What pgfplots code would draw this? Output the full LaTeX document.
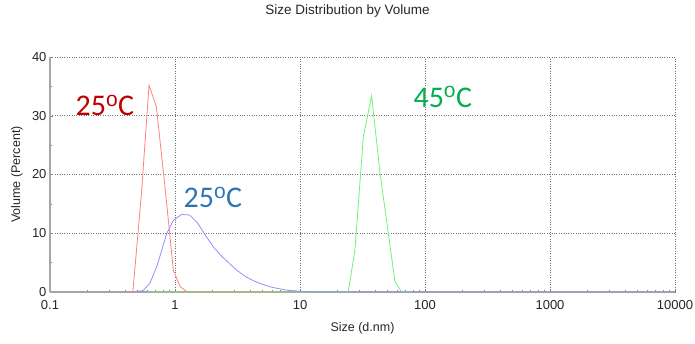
\documentclass[border=0pt]{standalone}
\usepackage{pgfplots}
\pgfplotsset{compat=1.18}
\usepackage{fontspec}
\setmainfont{Liberation Sans}
\newfontfamily\calibri{Carlito}
\definecolor{redline}{RGB}{255,128,128}
\definecolor{blueline}{RGB}{145,145,255}
\definecolor{greenline}{RGB}{115,240,115}
\definecolor{redtxt}{RGB}{192,0,0}
\definecolor{bluetxt}{RGB}{46,117,182}
\definecolor{greentxt}{RGB}{0,176,80}
\begin{document}
\begin{tikzpicture}[x=1pt,y=1pt]
\useasboundingbox (-50,-51) rectangle (645,292);
\begin{axis}[
  at={(0,0)}, anchor=south west,
  scale only axis, width=625pt, height=235pt,
  xmode=log, xmin=0.1, xmax=10000, ymin=0, ymax=40,
  xtick={0.1,1,10,100,1000,10000},
  xticklabels={0.1,1,10,100,1000,10000},
  ytick={0,10,20,30,40}, minor y tick num=1,
  axis x line*=bottom, axis y line*=left,
  axis line style={-, draw=black!35, line width=1.4pt},
  grid=major, major grid style={dotted, black!55, line width=0.8pt},
  tick style={black!50, line width=0.5pt},
  major tick length=3pt, minor tick length=2pt,
  tick label style={font=\fontsize{13}{15}\selectfont, text=black!85},
  xticklabel style={yshift=-5pt},
  /pgf/number format/assume math mode=true,
  xlabel={Size (d.nm)}, ylabel={Volume (Percent)},
  label style={font=\fontsize{12.5}{14}\selectfont, text=black!85},
  xlabel style={at={(axis description cs:0.5,0)}, anchor=center, yshift=-36pt},
  ylabel style={at={(axis description cs:-0.0528,0.5)}, anchor=center},
  title={Size Distribution by Volume},
  title style={at={(axis description cs:0.5,1)}, anchor=center, yshift=40pt, xshift=-15pt, font=\fontsize{13.5}{15}\selectfont, text=black!85},
  clip=false,
]
\addplot[redline, line width=0.8pt] coordinates {
(0.40,0) (0.46,0) (0.54,17) (0.62,35.2) (0.71,31.5) (0.84,17) (0.97,3.7) (1.10,0.9) (1.26,0) (1.5,0) (2,0) (5,0) (10,0)
};
\addplot[greenline, line width=0.8pt] coordinates {
(0.6,0) (1,0) (5,0) (10,0) (15,0) (20,0) (24.3,0) (27.5,7.1) (32.1,26.4) (37.4,33.4) (43.7,20.2) (57.5,1.75) (65,0) (80,0)
};
\addplot[blueline, line width=0.8pt] coordinates {
(0.46,0) (0.54,0.2) (0.56,0.3) (0.63,1.5) (0.72,4.5) (0.86,10) (0.97,12.2) (1.13,13.2) (1.31,13.1) (1.51,11.8) (1.76,9.6) (2.04,7.6) (2.36,6.1) (2.74,4.8) (3.17,3.6) (3.68,2.6) (4.26,1.9) (4.94,1.35) (5.73,0.9) (6.64,0.6) (7.70,0.35) (8.93,0.2) (10.35,0.1) (12,0.05) (13.9,0.02) (16.1,0) (20,0) (100,0) (1000,0) (10000,0)
};
\node[text=redtxt, font=\calibri\fontsize{30}{32}\selectfont] at (axis cs:0.275,31.8) {25$^{\mathrm{o}}$C};
\node[text=bluetxt, font=\calibri\fontsize{30}{32}\selectfont] at (axis cs:2.01,16.1) {25$^{\mathrm{o}}$C};
\node[text=greentxt, font=\calibri\fontsize{30}{32}\selectfont] at (axis cs:139,33.2) {45$^{\mathrm{o}}$C};
\end{axis}
\end{tikzpicture}
\end{document}
